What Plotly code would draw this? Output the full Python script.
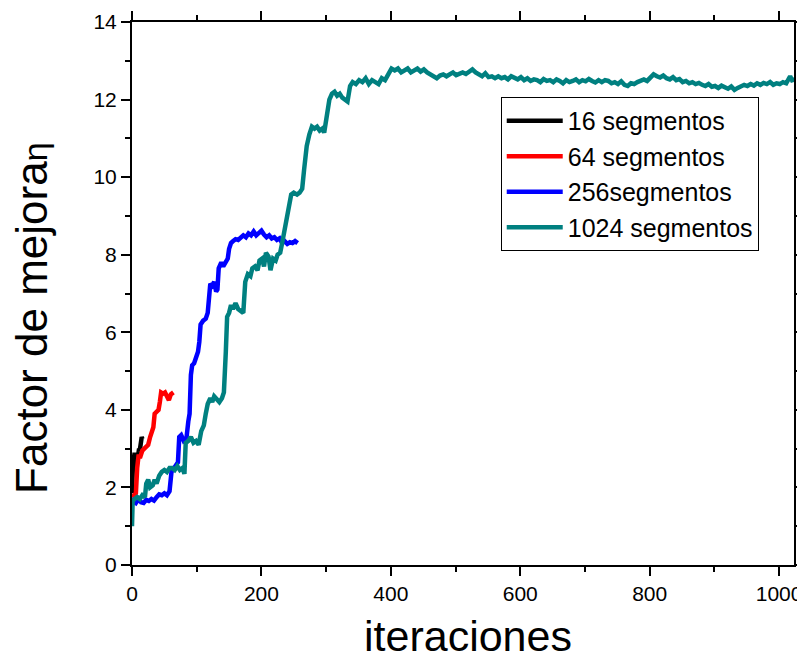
import plotly.graph_objects as go

# ---- data ----
x16 = [0, 1, 2, 3, 4, 5, 6, 7, 8, 9, 10, 11, 12, 13, 14, 15, 16]
y16 = [1.85, 2.4, 2.85, 2.5, 2.9, 2.6, 2.8, 2.55, 2.7, 2.75, 2.9, 3.0, 2.95, 3.2, 3.1, 3.3, 3.25]

x64 = [0, 3, 6, 8, 10, 13, 16, 19, 22, 25, 28, 31, 33, 35, 38, 41, 43, 45, 48, 51, 54, 57, 60, 62, 64]
y64 = [1.75, 1.8, 1.85, 2.5, 2.8, 2.8, 2.95, 3.0, 3.05, 3.1, 3.3, 3.5, 3.55, 3.9, 3.95, 4.0, 4.2, 4.45,
       4.42, 4.45, 4.35, 4.25, 4.4, 4.42, 4.45]

x256 = [0, 2, 6, 10, 14, 18, 22, 26, 30, 34, 38, 42, 46, 50, 54, 58, 61, 65, 69, 71, 73, 76, 80, 84,
        87, 89, 91, 93, 96, 99, 102, 104, 106, 110, 114, 117, 119, 121, 124, 127, 130, 132, 134, 138,
        141, 145, 148, 150, 153, 156, 160, 164, 168, 172, 176, 180, 184, 188, 192, 196, 200, 204, 208,
        212, 216, 220, 224, 228, 232, 236, 240, 244, 248, 252, 256]
y256 = [1.55, 1.65, 1.6, 1.7, 1.62, 1.6, 1.68, 1.65, 1.7, 1.66, 1.75, 1.82, 1.8, 1.85, 1.8, 1.9, 2.4,
        2.5, 2.55, 2.65, 3.3, 3.35, 3.2, 3.25, 3.7, 3.9, 4.9, 5.15, 5.2, 5.35, 5.5, 5.75, 6.2, 6.3, 6.35,
        6.5, 7.0, 7.25, 7.2, 7.3, 7.05, 7.1, 7.65, 7.8, 7.7, 7.85, 7.9, 8.15, 8.3, 8.35, 8.4, 8.38, 8.45,
        8.5, 8.45, 8.55, 8.5, 8.6, 8.5, 8.55, 8.62, 8.52, 8.45, 8.5, 8.42, 8.45, 8.38, 8.42, 8.3, 8.35,
        8.28, 8.32, 8.3, 8.35, 8.3]

x1024 = [0, 1, 4, 8, 12, 16, 20, 22, 25, 28, 32, 35, 38, 42, 46, 50, 54, 58, 62, 66, 70, 74, 78, 81,
         83, 87, 91, 95, 99, 103, 107, 111, 114, 117, 121, 124, 127, 131, 135, 139, 142, 145, 147, 150,
         153, 156, 160, 164, 168, 172, 175, 179, 183, 186, 190, 194, 197, 201, 204, 207, 211, 214, 218,
         222, 225, 229, 232, 235, 238, 242, 246, 250, 255, 259, 263, 266, 270, 274, 278, 282, 286, 290,
         294, 297, 301, 305, 309, 313, 317, 321, 325, 329, 333, 337, 341, 346, 351, 356, 361, 366, 371,
         376, 381, 386, 391, 396, 401, 406, 411, 416, 421, 426, 431, 436, 441, 446, 451, 456, 461, 466,
         471, 476, 481, 486, 491, 496, 501, 506, 511, 516, 521, 526, 531, 536, 541, 546, 551, 556, 561,
         566, 571, 576, 581, 586, 591, 596, 601, 606, 611, 616, 621, 626, 631, 636, 641, 646, 651, 656,
         661, 666, 671, 676, 681, 686, 691, 696, 701, 706, 711, 716, 721, 726, 731, 736, 741, 746, 751,
         756, 761, 766, 771, 776, 781, 786, 791, 796, 801, 806, 811, 816, 821, 826, 831, 836, 841, 846,
         851, 856, 861, 866, 871, 876, 881, 886, 891, 896, 901, 906, 911, 916, 921, 926, 931, 936, 941,
         946, 951, 956, 961, 966, 971, 976, 981, 986, 991, 996, 1001, 1006, 1011, 1014, 1017, 1020, 1024]
y1024 = [1.0, 1.65, 1.7, 1.75, 1.7, 1.8, 1.75, 2.1, 2.2, 2.0, 2.05, 2.2, 2.1, 2.3, 2.4, 2.45, 2.4, 2.5,
         2.5, 2.45, 2.55, 2.45, 2.5, 2.35, 3.15, 3.2, 3.3, 3.15, 3.2, 3.1, 3.45, 3.6, 3.9, 4.15, 4.3, 4.2,
         4.35, 4.25, 4.2, 4.3, 4.45, 5.5, 6.4, 6.5, 6.7, 6.6, 6.75, 6.6, 6.55, 6.5, 7.3, 7.5, 7.45, 7.65,
         7.7, 7.6, 7.85, 7.9, 7.7, 8.05, 7.95, 7.6, 7.9, 7.85, 8.0, 8.05, 8.3, 8.6, 8.9, 9.25, 9.55, 9.6,
         9.55, 9.6, 9.7, 10.2, 10.8, 11.1, 11.3, 11.25, 11.3, 11.2, 11.25, 11.15, 11.6, 12.0, 12.15, 12.2,
         12.1, 12.15, 12.05, 12.0, 11.95, 12.35, 12.45, 12.4, 12.5, 12.45, 12.55, 12.4, 12.5, 12.45, 12.4,
         12.55, 12.5, 12.65, 12.8, 12.75, 12.8, 12.7, 12.75, 12.8, 12.7, 12.75, 12.8, 12.72, 12.78, 12.7,
         12.65, 12.6, 12.55, 12.62, 12.65, 12.6, 12.65, 12.7, 12.63, 12.68, 12.7, 12.66, 12.72, 12.78,
         12.7, 12.65, 12.6, 12.68, 12.58, 12.6, 12.55, 12.6, 12.55, 12.58, 12.52, 12.6, 12.55, 12.52,
         12.58, 12.5, 12.55, 12.48, 12.52, 12.5, 12.45, 12.53, 12.48, 12.5, 12.45, 12.52, 12.48, 12.42,
         12.5, 12.45, 12.48, 12.52, 12.45, 12.5, 12.47, 12.53, 12.48, 12.44, 12.5, 12.45, 12.5, 12.48,
         12.42, 12.45, 12.4, 12.47, 12.38, 12.35, 12.42, 12.4, 12.45, 12.5, 12.52, 12.48, 12.55, 12.65,
         12.6, 12.57, 12.62, 12.55, 12.52, 12.58, 12.5, 12.53, 12.45, 12.48, 12.42, 12.45, 12.4, 12.43,
         12.38, 12.35, 12.4, 12.33, 12.35, 12.3, 12.36, 12.32, 12.28, 12.34, 12.25, 12.3, 12.33, 12.38,
         12.35, 12.4, 12.36, 12.42, 12.38, 12.43, 12.4, 12.45, 12.38, 12.42, 12.4, 12.45, 12.42, 12.5,
         12.6, 12.5, 12.52]

names = ["16 segmentos", "64 segmentos", "256segmentos", "1024 segmentos"]
colors = ["#000000", "#ff0000", "#0000ff", "#008080"]
series = [(x16, y16), (x64, y64), (x256, y256), (x1024, y1024)]

x_ticks = [0, 200, 400, 600, 800, 1000]
y_ticks = [0, 2, 4, 6, 8, 10, 12, 14]

x_title = "iteraciones"
y_title = "Factor de mejora<span style='font-size:34px'>η</span>"

FONT = "Liberation Sans, Arial, sans-serif"

fig = go.Figure()
for (xs, ys), nm, c in zip(series, names, colors):
    fig.add_trace(go.Scatter(x=xs, y=ys, mode="lines", name=nm,
                             line=dict(color=c, width=4.5)))

axis_common = dict(
    showline=True, linecolor="black", linewidth=2, mirror="allticks",
    ticks="outside", ticklen=9, tickwidth=2, tickcolor="black",
    showgrid=False, zeroline=False, automargin=False,
    tickfont=dict(family=FONT, size=21, color="black"),
)

fig.update_xaxes(range=[0, 1023], tickvals=x_ticks, ticktext=[str(v) for v in x_ticks],
                 minor=dict(ticks="outside", ticklen=5, tickwidth=2, tickcolor="black",
                            tickvals=[100, 300, 500, 700, 900], showgrid=False),
                 **axis_common)
fig.update_yaxes(range=[0, 14], tickvals=y_ticks, ticktext=[str(v) for v in y_ticks],
                 minor=dict(ticks="outside", ticklen=5, tickwidth=2, tickcolor="black",
                            tickvals=[1, 3, 5, 7, 9, 11, 13], showgrid=False),
                 **axis_common)

# axis titles as annotations for exact placement
fig.add_annotation(text=x_title, xref="paper", yref="paper", x=0.507, y=-0.13,
                   xanchor="center", yanchor="middle", showarrow=False,
                   font=dict(family=FONT, size=43, color="black"))
fig.add_annotation(text=y_title, xref="paper", yref="paper", x=0, y=0.455,
                   xanchor="center", yanchor="middle", xshift=-100, showarrow=False,
                   textangle=-90, font=dict(family=FONT, size=44, color="black"))

# page body has an 8px default margin: figure size/margins compensate for it
fig.update_layout(
    width=797, height=652,
    margin=dict(l=124, r=11, t=14, b=95),
    paper_bgcolor="white", plot_bgcolor="white",
    showlegend=True,
    legend=dict(x=0.557, y=0.862, xanchor="left", yanchor="top",
                bgcolor="white", bordercolor="black", borderwidth=1,
                font=dict(family=FONT, size=25, color="black"),
                tracegroupgap=0, itemwidth=56),
)

fig.write_html("out.html")
